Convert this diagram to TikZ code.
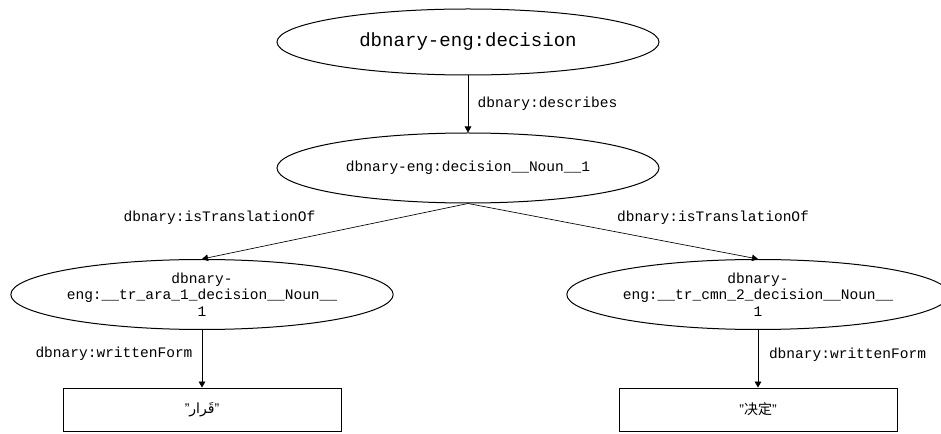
\documentclass[tikz,border=0pt]{standalone}
\usepackage{fontspec}
\setmainfont{Liberation Sans}
\setmonofont{Liberation Mono}
\newfontfamily\arabicfont[Script=Arabic]{DejaVu Sans}
\newfontfamily\cjk{Noto Sans CJK SC}
\TeXXeTstate=1
\usetikzlibrary{arrows.meta, shapes.geometric, positioning}

\tikzset{
  resource/.style={draw, ellipse, line width=0.75pt, inner sep=0pt,
        minimum width=286.5pt, minimum height=52.5pt, align=center,
        font=\ttfamily\fontsize{10.9}{12.4}\selectfont},
  literal/.style={draw, rectangle, line width=0.75pt, inner sep=0pt,
        minimum width=208.5pt, minimum height=32.25pt,
        font=\fontsize{10.5}{12}\selectfont},
  property/.style={-{Triangle[length=4.5pt,width=5pt]}, line width=0.5pt},
  proplabel/.style={inner sep=0pt, font=\ttfamily\fontsize{10.9}{12}\selectfont}
}

\begin{document}
\begin{tikzpicture}[x=0.75pt, y=-0.75pt]
  \useasboundingbox (0,0) rectangle (941,434);

  % resources
  \node[resource, minimum height=49.5pt, font=\ttfamily\fontsize{14.3}{17}\selectfont]
    (decision) at (468,42) {dbnary-eng:decision};
  \node[resource] (noun) at (468,168) {dbnary-eng:decision\_\_Noun\_\_1};
  \node[resource] (trAra) at (202,294.5)
    {dbnary-\\eng:\_\_tr\_ara\_1\_decision\_\_Noun\_\_\\1};
  \node[resource] (trCmn) at (758,294.5)
    {dbnary-\\eng:\_\_tr\_cmn\_2\_decision\_\_Noun\_\_\\1};

  % literals
  \node[literal] (formAra) at (202,409.5) {"{\arabicfont\beginR قَرار\endR}"};
  \node[literal] (formCmn) at (758,409.5) {"{\cjk 决定}"};

  % properties
  \draw[property] (decision) -- (noun);
  \draw[property] (noun.south) -- (trAra.north);
  \draw[property] (noun.south) -- (trCmn.north);
  \draw[property] (trAra) -- (formAra);
  \draw[property] (trCmn) -- (formCmn);

  \node[proplabel] (lblDescribes) at (547.5,104) {dbnary:describes};
  \node[proplabel] (lblTransAra) at (219.5,218) {dbnary:isTranslationOf};
  \node[proplabel] (lblTransCmn) at (713,218) {dbnary:isTranslationOf};
  \node[proplabel] (lblFormAra) at (114,354) {dbnary:writtenForm};
  \node[proplabel] (lblFormCmn) at (847.5,355) {dbnary:writtenForm};
\end{tikzpicture}
\end{document}
